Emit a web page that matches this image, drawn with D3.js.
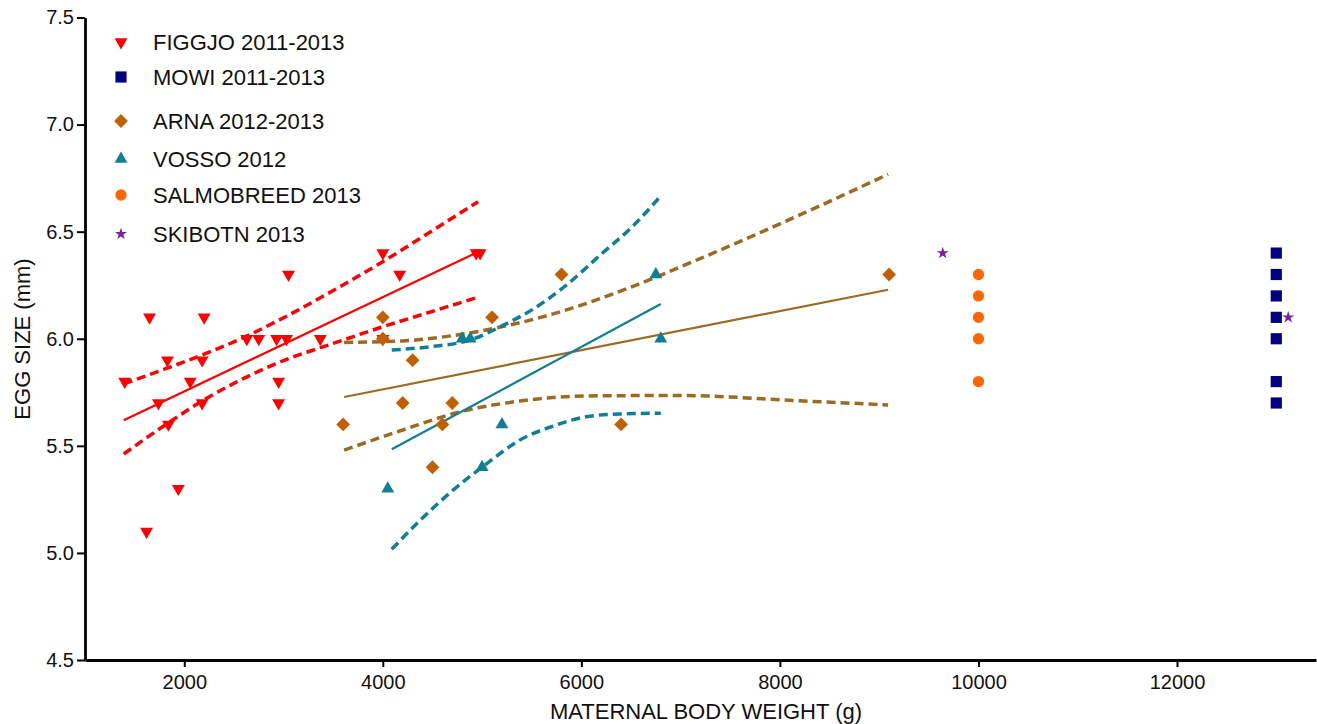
<!DOCTYPE html>
<html>
<head>
<meta charset="utf-8">
<script src="https://cdn.jsdelivr.net/npm/d3@7"></script>
<style>
  html, body { margin: 0; padding: 0; background: #fff; }
  svg { display: block; }
  text { font-family: Arial, "Liberation Sans", sans-serif; fill: #111; }
</style>
</head>
<body>
<svg id="chart" width="1317" height="724"></svg>
<script>
// ---------- DATA ----------
const seriesNames = ["FIGGJO 2011-2013", "MOWI 2011-2013", "ARNA 2012-2013", "VOSSO 2012", "SALMOBREED 2013", "SKIBOTN 2013"];

const figgjoX = [1400, 1650, 2200, 3050, 1830, 2180, 2630, 2750, 2930, 3030, 2060, 2950, 1740, 2180, 2950, 1840, 1940, 1620, 4000, 4940, 4980, 4170, 3370, 4000];
const figgjoY = [5.8, 6.1, 6.1, 6.3, 5.9, 5.9, 6.0, 6.0, 6.0, 6.0, 5.8, 5.8, 5.7, 5.7, 5.7, 5.6, 5.3, 5.1, 6.4, 6.4, 6.4, 6.3, 6.0, 6.0];

const mowiX = [13000, 13000, 13000, 13000, 13000, 13000, 13000];
const mowiY = [6.4, 6.3, 6.2, 6.1, 6.0, 5.8, 5.7];

const arnaX = [3600, 4000, 4000, 4300, 4200, 4700, 4600, 4500, 5100, 6400, 5800, 9100];
const arnaY = [5.6, 6.1, 6.0, 5.9, 5.7, 5.7, 5.6, 5.4, 6.1, 5.6, 6.3, 6.3];

const vossoX = [4050, 4800, 4880, 5200, 5000, 6800, 6750];
const vossoY = [5.3, 6.0, 6.0, 5.6, 5.4, 6.0, 6.3];

const salmoX = [10000, 10000, 10000, 10000, 10000];
const salmoY = [6.3, 6.2, 6.1, 6.0, 5.8];

const skibotnX = [9640, 13120];
const skibotnY = [6.4, 6.1];

// regression lines and 95% bands
const figgjoFitX = [1390, 4980];
const figgjoFitY = [5.62, 6.41];
const figgjoUpX = [1390, 1800, 2200, 2600, 3000, 3500, 4000, 4500, 4960];
const figgjoUpY = [5.79, 5.858, 5.928, 6.006, 6.098, 6.225, 6.36, 6.505, 6.64];
const figgjoLoX = [1390, 1800, 2200, 2600, 3000, 3500, 4000, 4500, 4960];
const figgjoLoY = [5.462, 5.595, 5.715, 5.815, 5.898, 5.978, 6.056, 6.128, 6.194];

const arnaFitX = [3610, 9090];
const arnaFitY = [5.728, 6.229];
const arnaUpX = [3610, 4200, 4780, 5380, 5920, 6520, 7200, 8200, 9090];
const arnaUpY = [5.983, 5.99, 6.02, 6.075, 6.145, 6.245, 6.375, 6.578, 6.768];
const arnaLoX = [3610, 4200, 4780, 5380, 6050, 7000, 8200, 9090];
const arnaLoY = [5.48, 5.574, 5.659, 5.709, 5.733, 5.735, 5.71, 5.691];

const vossoFitX = [4090, 6800];
const vossoFitY = [5.484, 6.162];
const vossoUpX = [4090, 4480, 4880, 5200, 5520, 5850, 6190, 6530, 6800];
const vossoUpY = [5.947, 5.963, 5.994, 6.06, 6.14, 6.251, 6.391, 6.531, 6.667];
const vossoLoX = [4090, 4380, 4710, 5050, 5380, 5720, 6050, 6390, 6800];
const vossoLoY = [5.017, 5.154, 5.294, 5.418, 5.527, 5.593, 5.636, 5.649, 5.652];

const xTicks = [2000, 4000, 6000, 8000, 10000, 12000];
const yTicks = [4.5, 5.0, 5.5, 6.0, 6.5, 7.0, 7.5];

// ---------- STYLE ----------
const colors = {
  figgjo: "#FF0000", mowi: "#000080", arna: "#C06000", arnaLine: "#9C6A22",
  vosso: "#0F7F96", salmo: "#FF6600", skibotn: "#7A1FA2"
};

const svg = d3.select("#chart");
const x = d3.scaleLinear().domain([1000, 13400]).range([85, 1316]);
const y = d3.scaleLinear().domain([4.5, 7.5]).range([660, 17.5]);

const zip = (xs, ys) => xs.map((v, i) => [v, ys[i]]);

// ---------- LINES ----------
const lineGen = d3.line().x(d => x(d[0])).y(d => y(d[1])).curve(d3.curveMonotoneX);
function drawLine(xs, ys, color, dashed) {
  svg.append("path")
    .datum(zip(xs, ys))
    .attr("fill", "none")
    .attr("stroke", color)
    .attr("stroke-width", dashed ? 3.5 : 2.2)
    .attr("stroke-dasharray", dashed ? "9,5" : null)
    .attr("d", lineGen);
}
drawLine(figgjoFitX, figgjoFitY, colors.figgjo, false);
drawLine(figgjoUpX, figgjoUpY, colors.figgjo, true);
drawLine(figgjoLoX, figgjoLoY, colors.figgjo, true);
drawLine(arnaFitX, arnaFitY, colors.arnaLine, false);
drawLine(arnaUpX, arnaUpY, colors.arnaLine, true);
drawLine(arnaLoX, arnaLoY, colors.arnaLine, true);
drawLine(vossoFitX, vossoFitY, colors.vosso, false);
drawLine(vossoUpX, vossoUpY, colors.vosso, true);
drawLine(vossoLoX, vossoLoY, colors.vosso, true);

// ---------- MARKERS ----------
const markers = {
  triDown: { type: d3.symbolTriangle, size: 72, rot: 180 },
  square: { type: d3.symbolSquare, size: 125, rot: 0 },
  diamond: { type: d3.symbolSquare, size: 95, rot: 45 },
  triUp: { type: d3.symbolTriangle, size: 72, rot: 0 },
  circle: { type: d3.symbolCircle, size: 100, rot: 0 },
  star: { type: d3.symbolStar, size: 45, rot: 0 }
};
function drawPoints(xs, ys, m, color) {
  const gen = d3.symbol().type(m.type).size(m.size);
  svg.append("g").selectAll("path")
    .data(zip(xs, ys))
    .join("path")
    .attr("d", gen)
    .attr("fill", color)
    .attr("transform", d => `translate(${x(d[0])},${y(d[1])}) rotate(${m.rot})`);
}
drawPoints(figgjoX, figgjoY, markers.triDown, colors.figgjo);
drawPoints(arnaX, arnaY, markers.diamond, colors.arna);
drawPoints(vossoX, vossoY, markers.triUp, colors.vosso);
drawPoints(salmoX, salmoY, markers.circle, colors.salmo);
drawPoints(mowiX, mowiY, markers.square, colors.mowi);
drawPoints(skibotnX, skibotnY, markers.star, colors.skibotn);

// ---------- AXES ----------
const xAxis = svg.append("g")
  .attr("transform", `translate(0,${y(4.5)})`)
  .call(d3.axisBottom(x).tickValues(xTicks).tickFormat(d3.format("d")).tickSize(7).tickPadding(8).tickSizeOuter(0));
const yAxis = svg.append("g")
  .attr("transform", `translate(${x(1000)},0)`)
  .call(d3.axisLeft(y).tickValues(yTicks).tickFormat(d3.format(".1f")).tickSize(8).tickPadding(3).tickSizeOuter(0));
[xAxis, yAxis].forEach(g => {
  g.select(".domain").attr("stroke", "#000").attr("stroke-width", 2.8);
  g.selectAll(".tick line").attr("stroke", "#000").attr("stroke-width", 2);
  g.selectAll(".tick text").attr("font-size", 20).attr("fill", "#111")
    .attr("font-family", "Arial, 'Liberation Sans', sans-serif");
});

svg.append("text")
  .attr("x", 706).attr("y", 719)
  .attr("text-anchor", "middle")
  .attr("font-size", 22)
  .text("MATERNAL BODY WEIGHT (g)");
svg.append("text")
  .attr("transform", "translate(30,339) rotate(-90)")
  .attr("text-anchor", "middle")
  .attr("font-size", 22)
  .text("EGG SIZE (mm)");

// ---------- LEGEND ----------
const legendMarkers = [markers.triDown, markers.square, markers.diamond, markers.triUp, markers.circle, markers.star];
const legendColors = [colors.figgjo, colors.mowi, colors.arna, colors.vosso, colors.salmo, colors.skibotn];
const legendY = [42, 77, 121, 159, 195, 234];
const lg = svg.append("g");
seriesNames.forEach((name, i) => {
  const m = legendMarkers[i];
  lg.append("path")
    .attr("d", d3.symbol().type(m.type).size(m.size)())
    .attr("fill", legendColors[i])
    .attr("transform", `translate(121,${legendY[i]}) rotate(${m.rot})`);
  lg.append("text")
    .attr("x", 153).attr("y", legendY[i])
    .attr("dy", "0.36em")
    .attr("font-size", 22)
    .text(name);
});
</script>
</body>
</html>
